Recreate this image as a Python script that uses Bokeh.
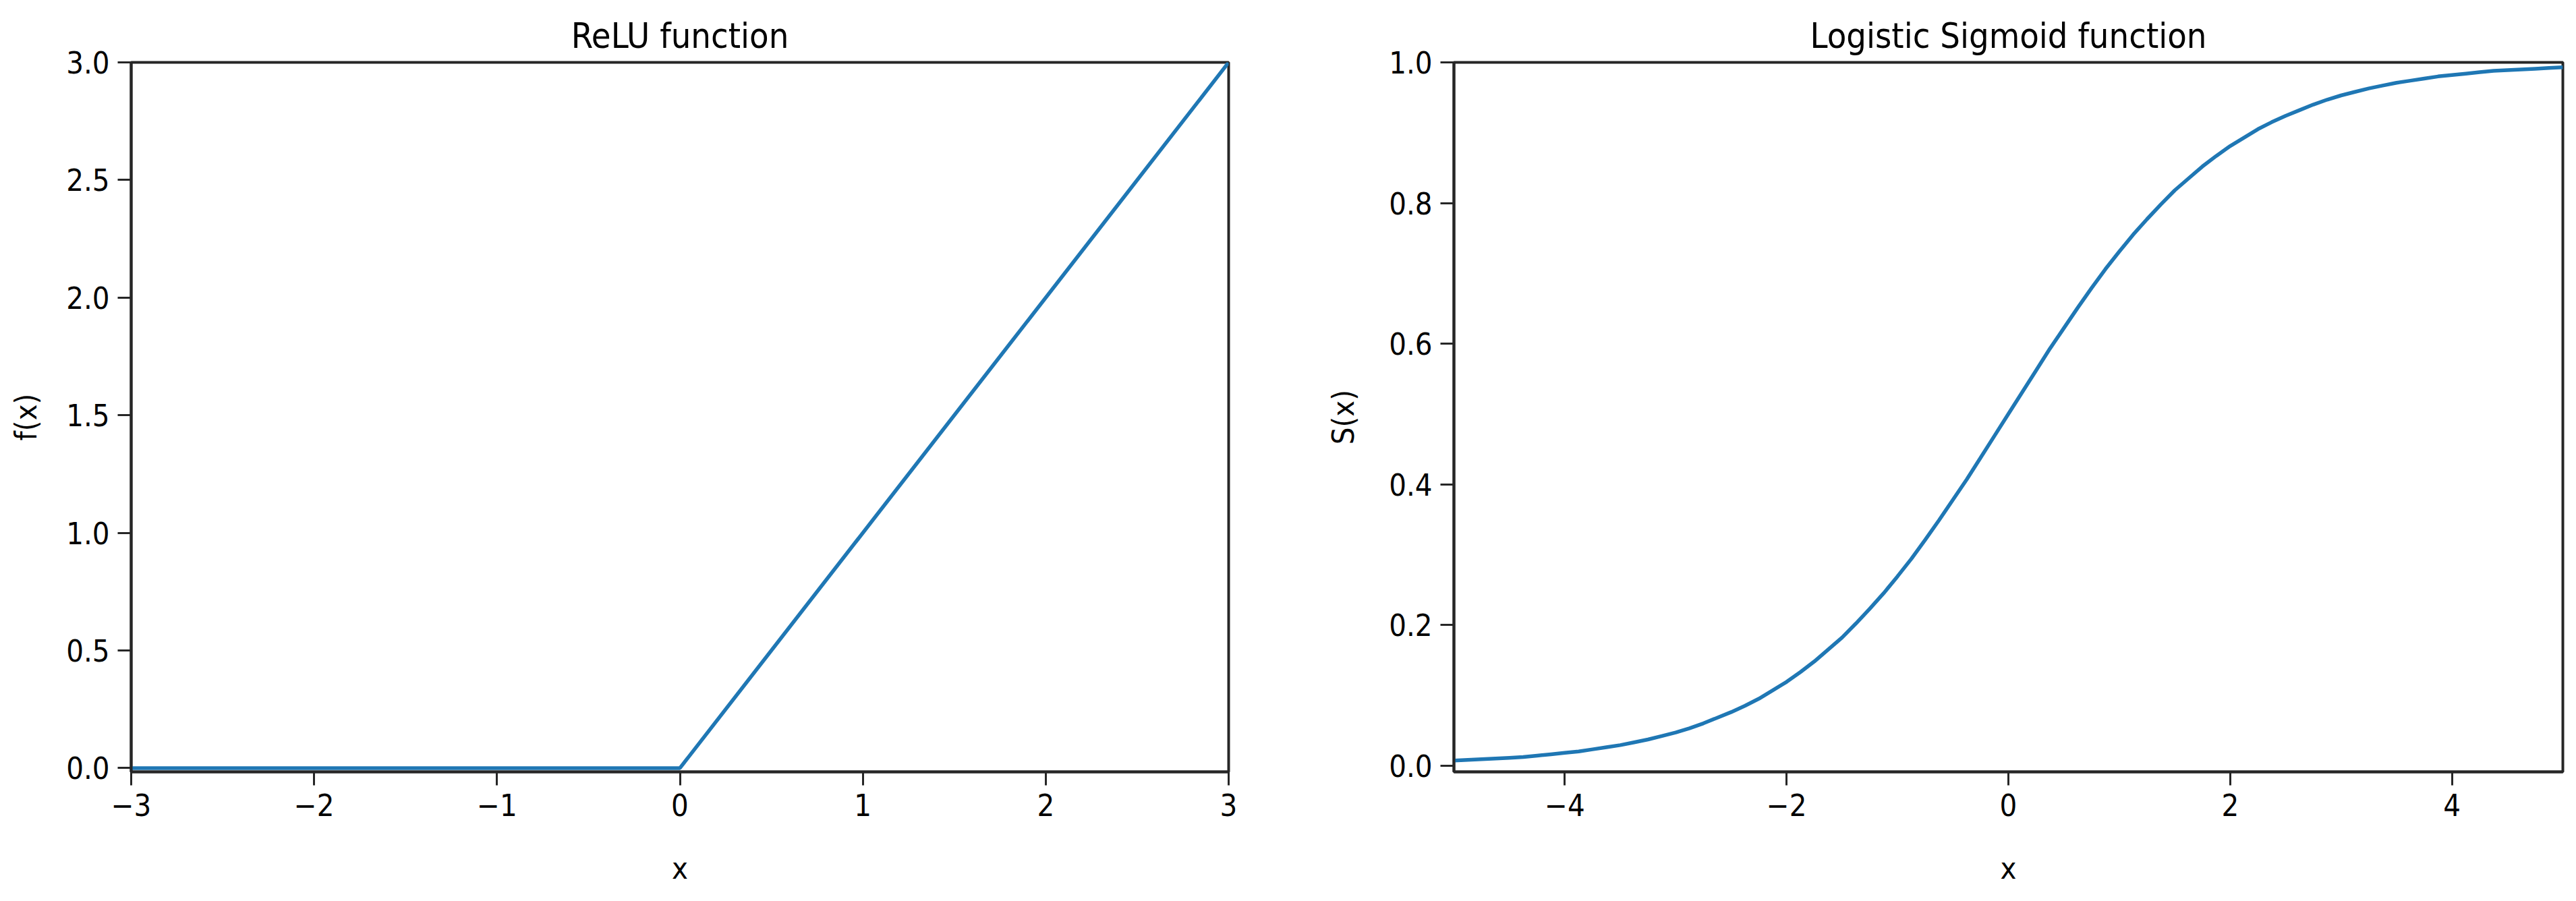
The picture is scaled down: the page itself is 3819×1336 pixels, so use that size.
from bokeh.plotting import figure
from bokeh.layouts import row
from bokeh.models import FixedTicker, Range1d
from bokeh.embed import file_html
from bokeh.resources import INLINE

# ---- data ----
relu_x = [-3.0, 0.0, 3.0]
relu_y = [0.0, 0.0, 3.0]

sig_x = [-5.0, -4.875, -4.75, -4.625, -4.5, -4.375, -4.25, -4.125,
         -4.0, -3.875, -3.75, -3.625, -3.5, -3.375, -3.25, -3.125,
         -3.0, -2.875, -2.75, -2.625, -2.5, -2.375, -2.25, -2.125,
         -2.0, -1.875, -1.75, -1.625, -1.5, -1.375, -1.25, -1.125,
         -1.0, -0.875, -0.75, -0.625, -0.5, -0.375, -0.25, -0.125,
         0.0, 0.125, 0.25, 0.375, 0.5, 0.625, 0.75, 0.875,
         1.0, 1.125, 1.25, 1.375, 1.5, 1.625, 1.75, 1.875,
         2.0, 2.125, 2.25, 2.375, 2.5, 2.625, 2.75, 2.875,
         3.0, 3.125, 3.25, 3.375, 3.5, 3.625, 3.75, 3.875,
         4.0, 4.125, 4.25, 4.375, 4.5, 4.625, 4.75, 4.875, 5.0]
sig_y = [0.007, 0.008, 0.009, 0.010, 0.011, 0.012, 0.014, 0.016,
         0.018, 0.020, 0.023, 0.026, 0.029, 0.033, 0.037, 0.042,
         0.047, 0.053, 0.060, 0.068, 0.076, 0.085, 0.095, 0.107,
         0.119, 0.133, 0.148, 0.165, 0.182, 0.202, 0.223, 0.245,
         0.269, 0.294, 0.321, 0.349, 0.378, 0.407, 0.438, 0.469,
         0.500, 0.531, 0.562, 0.593, 0.622, 0.651, 0.679, 0.706,
         0.731, 0.755, 0.777, 0.798, 0.818, 0.835, 0.852, 0.867,
         0.881, 0.893, 0.905, 0.915, 0.924, 0.932, 0.940, 0.947,
         0.953, 0.958, 0.963, 0.967, 0.971, 0.974, 0.977, 0.980,
         0.982, 0.984, 0.986, 0.988, 0.989, 0.990, 0.991, 0.992, 0.993]

relu_xticks = [-3, -2, -1, 0, 1, 2, 3]
relu_xlabels = ["\u22123", "\u22122", "\u22121", "0", "1", "2", "3"]
relu_yticks = [0.0, 0.5, 1.0, 1.5, 2.0, 2.5, 3.0]
relu_ylabels = ["0.0", "0.5", "1.0", "1.5", "2.0", "2.5", "3.0"]

sig_xticks = [-4, -2, 0, 2, 4]
sig_xlabels = ["\u22124", "\u22122", "0", "2", "4"]
sig_yticks = [0.0, 0.2, 0.4, 0.6, 0.8, 1.0]
sig_ylabels = ["0.0", "0.2", "0.4", "0.6", "0.8", "1.0"]

FONT = "DejaVu Sans Condensed"
LINE_COLOR = "#1f77b4"
FRAME_COLOR = "#262626"


def style(p, xticks, xlabels, yticks, ylabels, xlabel, ylabel, ylab_standoff):
    p.title.text_font = FONT
    p.title.text_font_size = "52px"
    p.title.text_font_style = "normal"
    p.title.text_color = "black"
    p.title.align = "center"
    p.title.standoff = 20
    p.outline_line_color = FRAME_COLOR
    p.outline_line_width = 4
    p.outline_line_alpha = 1.0
    p.xgrid.visible = False
    p.ygrid.visible = False
    for ax, ticks, labels, lab in ((p.xaxis[0], xticks, xlabels, xlabel),
                                   (p.yaxis[0], yticks, ylabels, ylabel)):
        ax.ticker = FixedTicker(ticks=ticks)
        ax.major_label_overrides = {t: l for t, l in zip(ticks, labels)}
        ax.major_label_text_font = FONT
        ax.major_label_text_font_size = "45px"
        ax.major_label_text_color = "black"
        ax.major_tick_out = 20
        ax.major_tick_in = 0
        ax.major_tick_line_width = 3
        ax.major_tick_line_color = FRAME_COLOR
        ax.minor_tick_line_color = None
        ax.axis_line_color = FRAME_COLOR
        ax.axis_line_width = 4
        ax.axis_label = lab
        ax.axis_label_text_font = FONT
        ax.axis_label_text_font_size = "45px"
        ax.axis_label_text_font_style = "normal"
        ax.axis_label_text_color = "black"
        ax.major_label_standoff = 12
    p.xaxis[0].axis_label_standoff = 48
    p.yaxis[0].axis_label_standoff = ylab_standoff


p1 = figure(output_backend="svg", toolbar_location=None,
            frame_width=1627, frame_height=1052,
            min_border_left=194, min_border_right=141,
            min_border_top=92, min_border_bottom=174,
            x_range=Range1d(-3, 3), y_range=Range1d(-0.016, 3),
            title="ReLU function")
p1.line(relu_x, relu_y, line_color=LINE_COLOR, line_width=5.5)
style(p1, relu_xticks, relu_xlabels, relu_yticks, relu_ylabels, "x", "f(x)", 30)

p2 = figure(output_backend="svg", toolbar_location=None,
            frame_width=1644, frame_height=1052,
            min_border_left=190, min_border_right=8,
            min_border_top=92, min_border_bottom=174,
            x_range=Range1d(-5, 5), y_range=Range1d(-0.009, 1.0),
            title="Logistic Sigmoid function")
p2.line(sig_x, sig_y, line_color=LINE_COLOR, line_width=5.5)
style(p2, sig_xticks, sig_xlabels, sig_yticks, sig_ylabels, "x", "S(x)", 38)

layout = row(p1, p2)
open("out.html", "w").write(file_html(layout, INLINE))
